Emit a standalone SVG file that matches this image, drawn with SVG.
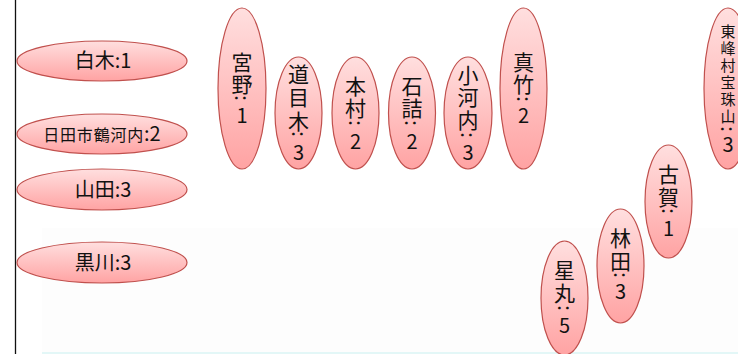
<svg xmlns="http://www.w3.org/2000/svg" width="738" height="354" viewBox="0 0 738 354">
<defs>
<linearGradient id="g" x1="0" y1="0" x2="0" y2="1">
<stop offset="0" stop-color="#ffdfdf"/>
<stop offset="1" stop-color="#ffa3a3"/>
</linearGradient>
<style>
.n{fill:url(#g);stroke:#c0504d;stroke-width:1.2}
.t{font-family:"Noto Sans CJK JP","Noto Sans",sans-serif;fill:#111;text-anchor:middle}
.h{font-size:20px}
.v{font-size:21px}
.d{font-size:20px}
.s{font-size:16px}
.x{font-size:15px}
</style>
</defs>
<rect x="0" y="0" width="738" height="354" fill="#ffffff"/>
<rect x="42" y="228" width="696" height="124" fill="#fdfdfd"/>
<rect x="42" y="352" width="696" height="2" fill="#e3f7f7"/>
<line x1="15.5" y1="0" x2="15.5" y2="354" stroke="#111" stroke-width="1.3"/>
<g id="connectors"></g>

<g id="n-shiraki"><ellipse class="n" cx="102" cy="61" rx="85" ry="20"/><text class="t h" x="103" y="68">白木:1</text></g>
<g id="n-hitashi"><ellipse class="n" cx="102" cy="134" rx="85" ry="20"/><text class="t" x="102" y="141"><tspan class="s" letter-spacing="0.8">日田市鶴河内</tspan><tspan class="h">:2</tspan></text></g>
<g id="n-yamada"><ellipse class="n" cx="102" cy="189.5" rx="85" ry="20.5"/><text class="t h" x="103" y="197">山田:3</text></g>
<g id="n-kurokawa"><ellipse class="n" cx="102" cy="262.5" rx="85" ry="20.5"/><text class="t h" x="103" y="270">黒川:3</text></g>

<g id="n-miyano"><ellipse class="n" cx="242" cy="88.5" rx="24" ry="80.5"/>
<text class="t v" x="242" y="70">宮</text><text class="t v" x="242" y="92">野</text>
<text class="t d" transform="translate(242 98) rotate(90)" y="7">:</text>
<text class="t d" x="242" y="123">1</text></g>

<g id="n-doumeki"><ellipse class="n" cx="298.5" cy="113" rx="23.5" ry="56"/>
<text class="t v" x="298.5" y="82">道</text><text class="t v" x="298.5" y="105">目</text><text class="t v" x="298.5" y="129">木</text>
<text class="t d" transform="translate(298.5 134) rotate(90)" y="7">:</text>
<text class="t d" x="298.5" y="160">3</text></g>

<g id="n-honmura"><ellipse class="n" cx="355.5" cy="113" rx="23.5" ry="56"/>
<text class="t v" x="355.5" y="94">本</text><text class="t v" x="355.5" y="116">村</text>
<text class="t d" transform="translate(355.5 123) rotate(90)" y="7">:</text>
<text class="t d" x="355.5" y="149">2</text></g>

<g id="n-ishizume"><ellipse class="n" cx="412" cy="113" rx="23.5" ry="56"/>
<text class="t v" x="412" y="94">石</text><text class="t v" x="412" y="116">詰</text>
<text class="t d" transform="translate(412 123) rotate(90)" y="7">:</text>
<text class="t d" x="412" y="149">2</text></g>

<g id="n-kogouchi"><ellipse class="n" cx="468" cy="113" rx="24" ry="56"/>
<text class="t v" x="468" y="83">小</text><text class="t v" x="468" y="105">河</text><text class="t v" x="468" y="128">内</text>
<text class="t d" transform="translate(468 135) rotate(90)" y="7">:</text>
<text class="t d" x="468" y="160">3</text></g>

<g id="n-matake"><ellipse class="n" cx="523.5" cy="88.5" rx="23.5" ry="80.5"/>
<text class="t v" x="523.5" y="70">真</text><text class="t v" x="523.5" y="92">竹</text>
<text class="t d" transform="translate(523.5 99) rotate(90)" y="7">:</text>
<text class="t d" x="523.5" y="123">2</text></g>

<g id="n-toho"><ellipse class="n" cx="728" cy="88.5" rx="24" ry="80.5"/>
<text class="t x" x="728" y="37">東</text><text class="t x" x="728" y="54">峰</text><text class="t x" x="728" y="71">村</text><text class="t x" x="728" y="88">宝</text><text class="t x" x="728" y="105">珠</text><text class="t x" x="728" y="122">山</text>
<text class="t d" transform="translate(727 129) rotate(90)" y="6">:</text>
<text class="t d" x="728" y="152">3</text></g>

<g id="n-koga"><ellipse class="n" cx="668.5" cy="201.5" rx="23.5" ry="56.5"/>
<text class="t v" x="668.5" y="182">古</text><text class="t v" x="668.5" y="205">賀</text>
<text class="t d" transform="translate(668.5 211) rotate(90)" y="7">:</text>
<text class="t d" x="668.5" y="236">1</text></g>

<g id="n-hayashida"><ellipse class="n" cx="620.5" cy="266" rx="23.5" ry="57"/>
<text class="t v" x="620.5" y="246">林</text><text class="t v" x="620.5" y="269">田</text>
<text class="t d" transform="translate(620.5 275) rotate(90)" y="7">:</text>
<text class="t d" x="620.5" y="299">3</text></g>

<g id="n-hoshimaru"><ellipse class="n" cx="564.5" cy="298" rx="23.5" ry="57"/>
<text class="t v" x="564.5" y="278">星</text><text class="t v" x="564.5" y="301">丸</text>
<text class="t d" transform="translate(564.5 308) rotate(90)" y="7">:</text>
<text class="t d" x="564.5" y="333">5</text></g>
</svg>
